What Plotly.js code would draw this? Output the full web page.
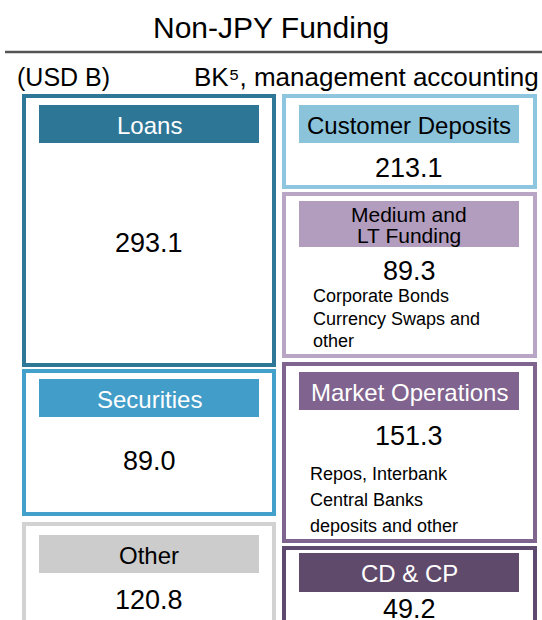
<!DOCTYPE html>
<html>
<head>
<meta charset="utf-8">
<script src="https://cdn.plot.ly/plotly-3.0.1.min.js"></script>
<style>html,body{margin:0;padding:0;background:#fff;}#chart{width:542px;height:620px;}</style>
</head>
<body>
<div id="chart"></div>
<script>
// ---- data ----
const chartTitle = 'Non-JPY Funding';
const unitLabel = '(USD B)';
const basisLabel = 'BK⁵, management accounting';
const assetCategories = ['Loans', 'Securities', 'Other'];
const assetValues = [293.1, 89.0, 120.8];
const fundingCategories = ['Customer Deposits', 'Medium and\nLT Funding', 'Market Operations', 'CD & CP'];
const fundingValues = [213.1, 89.3, 151.3, 49.2];
const fundingNotes = [
  [],
  ['Corporate Bonds', 'Currency Swaps and', 'other'],
  ['Repos, Interbank', 'Central Banks', 'deposits and other'],
  []
];

// ---- layout / style (positions in pixel space of a 542x620 canvas) ----
const FONT = '"Liberation Sans", Arimo, Arial, sans-serif';
const leftCol = {x0: 22, x1: 276, hx0: 39, hx1: 259};
const rightCol = {x0: 282, x1: 537, hx0: 299, hx1: 519};
const assetGeom = [
  {y0: 94, y1: 367, hy0: 105, hy1: 143, vy: 242, border: '#2E7797', head: '#2E7696', headText: '#ffffff'},
  {y0: 369, y1: 516, hy0: 379, hy1: 417, vy: 460, border: '#43A0CB', head: '#429DC9', headText: '#ffffff'},
  {y0: 522, y1: 650, hy0: 535, hy1: 573, vy: 599, border: '#D2D2D2', head: '#CCCCCC', headText: '#000000'}
];
const fundingGeom = [
  {y0: 94, y1: 189, hy0: 105, hy1: 143, vy: 167, border: '#8DC6DE', head: '#8BC3DB', headText: '#000000'},
  {y0: 192, y1: 358, hy0: 201, hy1: 247, vy: 270, border: '#B9A6C7', head: '#B39DBE', headText: '#000000', noteY: 295, noteStep: 22.5, noteX: 311},
  {y0: 362, y1: 543, hy0: 372, hy1: 410, vy: 435, border: '#806490', head: '#80638E', headText: '#ffffff', noteY: 473, noteStep: 26, noteX: 308},
  {y0: 546, y1: 650, hy0: 553, hy1: 592, vy: 608, border: '#5E4A6E', head: '#5F4A6C', headText: '#ffffff'}
];
const BW = 4;

const shapes = [];
const annotations = [];

function ann(text, x, y, size, color, xanchor) {
  annotations.push({text: text, x: x, y: y, xref: 'x', yref: 'y', showarrow: false,
    xanchor: xanchor || 'center', yanchor: 'middle', font: {family: FONT, size: size, color: color || '#000'}});
}

function drawColumn(cats, vals, notes, geom, col) {
  cats.forEach((cat, i) => {
    const g = geom[i];
    shapes.push({type: 'rect', xref: 'x', yref: 'y', x0: col.x0 + BW / 2, x1: col.x1 - BW / 2,
      y0: g.y0 + BW / 2, y1: g.y1 - BW / 2, line: {color: g.border, width: BW}, fillcolor: '#ffffff', layer: 'below'});
    shapes.push({type: 'rect', xref: 'x', yref: 'y', x0: col.hx0, x1: col.hx1, y0: g.hy0, y1: g.hy1,
      line: {width: 0}, fillcolor: g.head, layer: 'below'});
    const lines = cat.split('\n');
    const cx = (col.hx0 + col.hx1) / 2;
    const hc = (g.hy0 + g.hy1) / 2;
    if (lines.length === 1) {
      ann(lines[0], cx, hc + 1, 24, g.headText);
    } else {
      const step = 21;
      lines.forEach((ln, k) => ann(ln, cx, hc + 1 + (k - (lines.length - 1) / 2) * step, 21, g.headText));
    }
    ann(vals[i].toFixed(1), cx, g.vy + 1, 27, '#000');
    (notes ? notes[i] : []).forEach((ln, k) => ann(ln, g.noteX, g.noteY + 1 + k * g.noteStep, 18, '#000', 'left'));
  });
}

drawColumn(assetCategories, assetValues, null, assetGeom, leftCol);
drawColumn(fundingCategories, fundingValues, fundingNotes, fundingGeom, rightCol);

// header rule and texts
shapes.push({type: 'line', xref: 'x', yref: 'y', x0: 5, x1: 542, y0: 52, y1: 52, line: {color: '#555555', width: 2.5}});
ann(chartTitle, 271, 27, 30, '#000');
ann(unitLabel, 15, 77, 25, '#000', 'left');
ann(basisLabel, 541, 77, 26, '#000', 'right');

const layout = {
  width: 542, height: 620,
  margin: {l: 0, r: 0, t: 0, b: 0},
  paper_bgcolor: '#ffffff', plot_bgcolor: '#ffffff',
  xaxis: {range: [0, 542], visible: false, fixedrange: true},
  yaxis: {range: [620, 0], visible: false, fixedrange: true},
  showlegend: false,
  shapes: shapes,
  annotations: annotations
};

Plotly.newPlot('chart', [], layout, {staticPlot: true, displayModeBar: false});
</script>
</body>
</html>
